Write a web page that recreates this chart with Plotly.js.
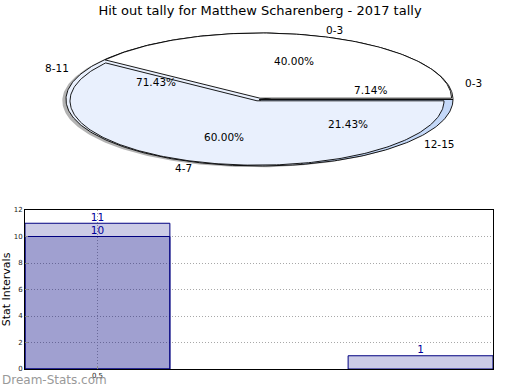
<!DOCTYPE html>
<html>
<head>
<meta charset="utf-8">
<script src="https://cdn.plot.ly/plotly-3.0.1.min.js"></script>
<style>html,body{margin:0;padding:0;background:#fff;}#chart{width:520px;height:390px;}</style>
</head>
<body>
<div id="chart"></div>
<script>
// ---- data ----
const titleText = 'Hit out tally for Matthew Scharenberg - 2017 tally';
const innerLabels = ['0-3', '4-7'];
const innerValues = [2, 3];
const outerLabels = ['0-3', '8-11', '12-15'];
const outerValues = [1, 10, 3];
const barPositions = [0.5, 2.73];
const barTotals = [11, 1];
const barInner = [10, null];
const yTicks = [0, 2, 4, 6, 8, 10, 12];
const xTicks = [0.5];
const xTickLabels = ['0.5'];

// ---- styles ----
const innerColors = ['#ffffff', '#e9f0fd'];
const outerColors = ['#ffffff', '#e9f0fd', '#c4d8f8'];
// geometry of each inner wedge: [cx, cy, a, b]
const innerGeom = [[260, 98.2, 191.5, 65.2], [257, 100.8, 187, 64.4]];
const FONT = 'DejaVu Sans, sans-serif';

function slicePath(cx, cy, a, b, t1, t2) {
  const xs = [cx], ys = [cy];
  const n = Math.max(4, Math.ceil(Math.abs(t2 - t1) / 1));
  for (let i = 0; i <= n; i++) {
    const t = (t1 + (t2 - t1) * i / n) * Math.PI / 180;
    xs.push(cx + a * Math.cos(t));
    ys.push(cy - b * Math.sin(t));
  }
  xs.push(cx); ys.push(cy);
  return {xs, ys};
}
function angles(values) {
  const s = values.reduce((p, c) => p + c, 0);
  let acc = 0;
  return values.map(v => { const t1 = acc / s * 360; acc += v; return [t1, acc / s * 360, v / s]; });
}

const traces = [];
function addSlice(p, color, lw, opacity) {
  traces.push({type: 'scatter', mode: 'lines', x: p.xs, y: p.ys, fill: 'toself',
    fillcolor: color, line: {color: lw > 0 ? '#000' : color, width: lw}, opacity: opacity === undefined ? 1 : opacity,
    hoverinfo: 'skip', showlegend: false, xaxis: 'x', yaxis: 'y'});
}

// shadow
addSlice(slicePath(255.8, 100.8, 193.5, 66.5, 0, 360), '#808080', 0, 0.6);

// outer (back) pie
const oAng = angles(outerValues);
oAng.forEach((g, i) => addSlice(slicePath(259.5, 99.5, 193.5, 66.5, g[0], g[1]), outerColors[i], 0.9));

// inner (front) pie
const iAng = angles(innerValues);
iAng.forEach((g, i) => {
  const G = innerGeom[i];
  addSlice(slicePath(G[0], G[1], G[2], G[3], g[0], g[1]), innerColors[i], 0.9);
});

// labels
const LC = [259, 99], LA = 190, LB = 66;
const annotations = [];
function addLabels(angs, labels) {
  angs.forEach((g, i) => {
    const mid = (g[0] + g[1]) / 2 * Math.PI / 180;
    const c = Math.cos(mid), s = Math.sin(mid);
    annotations.push({xref: 'x', yref: 'y', x: LC[0] + 0.6 * LA * c, y: LC[1] - 0.6 * LB * s,
      text: (g[2] * 100).toFixed(2) + '%', showarrow: false, xanchor: 'center', yanchor: 'middle',
      font: {family: FONT, size: 10.5, color: '#000'}});
    annotations.push({xref: 'x', yref: 'y', x: LC[0] + 1.1 * LA * c, y: LC[1] - 1.1 * LB * s,
      text: labels[i], showarrow: false, xanchor: c >= 0 ? 'left' : 'right', yanchor: 'middle',
      font: {family: FONT, size: 10.5, color: '#000'}});
  });
}
addLabels(iAng, innerLabels);
addLabels(oAng, outerLabels);

// bars (semi-transparent so the dotted grid shows through, like the reference)
traces.push({type: 'bar', x: barPositions, y: barTotals, width: 1, xaxis: 'x2', yaxis: 'y2',
  marker: {color: 'rgba(0,0,128,0.2)', line: {color: '#000080', width: 1}}, hoverinfo: 'skip', showlegend: false});
traces.push({type: 'bar', x: barPositions, y: barInner, width: 1, xaxis: 'x2', yaxis: 'y2',
  marker: {color: 'rgba(0,0,128,0.215)', line: {color: '#000080', width: 1}}, hoverinfo: 'skip', showlegend: false});
const txX = [], txY = [], txT = [];
barPositions.forEach((x, i) => {
  txX.push(x); txY.push(barTotals[i]); txT.push(String(barTotals[i]));
  if (barInner[i] !== null) { txX.push(x); txY.push(barInner[i]); txT.push(String(barInner[i])); }
});
traces.push({type: 'scatter', mode: 'text', x: txX, y: txY, text: txT, textposition: 'top center',
  textfont: {family: FONT, size: 10.5, color: '#000099'}, xaxis: 'x2', yaxis: 'y2', cliponaxis: false,
  hoverinfo: 'skip', showlegend: false});

annotations.push({xref: 'paper', yref: 'paper', x: 0, y: 10 / 390, xanchor: 'left', yanchor: 'middle',
  text: 'Dream-Stats.com', showarrow: false, font: {family: FONT, size: 12, color: '#999999'}});

const layout = {
  width: 520, height: 390, margin: {l: 0, r: 0, t: 0, b: 0},
  paper_bgcolor: '#fff', plot_bgcolor: 'rgba(0,0,0,0)',
  title: {text: titleText, x: 0.5, xanchor: 'center', y: 1 - 10 / 390, yanchor: 'middle', yref: 'container',
    font: {family: FONT, size: 13, color: '#000'}},
  xaxis: {domain: [0, 1], range: [0, 520], visible: false, fixedrange: true},
  yaxis: {domain: [0, 1], range: [390, 0], visible: false, fixedrange: true},
  xaxis2: {domain: [25 / 520, 493 / 520], anchor: 'y2', range: [0, 3.23], tickvals: xTicks, ticktext: xTickLabels,
    showgrid: true, gridcolor: '#a8a8a8', griddash: '1px,2px', gridwidth: 1,
    zeroline: false, showline: true, mirror: true, linecolor: '#000', linewidth: 1,
    ticks: 'inside', ticklen: 3, tickcolor: '#888', tickfont: {family: FONT, size: 7, color: '#222'}, fixedrange: true},
  yaxis2: {domain: [21 / 390, 180 / 390], anchor: 'x2', range: [0, 12], tickvals: yTicks,
    showgrid: true, gridcolor: '#a8a8a8', griddash: '1px,2px', gridwidth: 1,
    zeroline: false, showline: true, mirror: true, linecolor: '#000', linewidth: 1,
    ticks: 'inside', ticklen: 3, tickcolor: '#888', tickfont: {family: FONT, size: 7, color: '#222'},
    title: {text: 'Stat Intervals', font: {family: FONT, size: 11, color: '#000'}, standoff: 5}, fixedrange: true},
  barmode: 'overlay', bargap: 0,
  annotations: annotations, showlegend: false
};
Plotly.newPlot('chart', traces, layout, {staticPlot: true, displayModeBar: false});
</script>
</body>
</html>
